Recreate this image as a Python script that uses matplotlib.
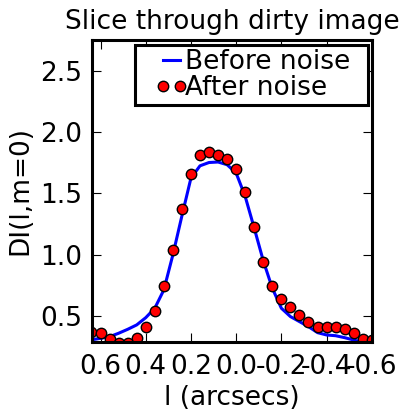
import matplotlib
matplotlib.use('Agg')
import matplotlib.pyplot as plt
from matplotlib.lines import Line2D
from matplotlib.legend_handler import HandlerLine2D

plt.rcParams['axes.unicode_minus'] = False

# slice positions (arcsec), axis runs from +0.64 down to -0.6
l_arcsec = [0.64, 0.60, 0.56, 0.52, 0.48, 0.44, 0.40, 0.36, 0.32, 0.28,
            0.24, 0.20, 0.16, 0.12, 0.08, 0.04, 0.00, -0.04, -0.08, -0.12,
            -0.16, -0.20, -0.24, -0.28, -0.32, -0.36, -0.40, -0.44, -0.48,
            -0.52, -0.56, -0.60]

before_noise = [0.305, 0.318, 0.331, 0.359, 0.391, 0.427, 0.486, 0.563, 0.712, 0.998,
                1.316, 1.624, 1.724, 1.751, 1.755, 1.733, 1.665, 1.474, 1.216, 0.950,
                0.726, 0.563, 0.495, 0.454, 0.413, 0.364, 0.345, 0.339, 0.323,
                0.304, 0.285, 0.280]

after_noise = [0.372, 0.359, 0.315, 0.277, 0.277, 0.318, 0.413, 0.543, 0.742, 1.036,
               1.376, 1.659, 1.809, 1.833, 1.809, 1.776, 1.694, 1.507, 1.224, 0.941,
               0.742, 0.636, 0.576, 0.508, 0.449, 0.413, 0.413, 0.413, 0.391,
               0.359, 0.310, 0.300]

xticks = [0.6, 0.4, 0.2, 0.0, -0.2, -0.4, -0.6]
yticks = [0.5, 1.0, 1.5, 2.0, 2.5]

fig = plt.figure(figsize=(4.05, 4.12), dpi=100)
ax = fig.add_axes([0.227, 0.170, 0.691, 0.733])

ax.plot(l_arcsec, before_noise, color='blue', lw=2.2, label='Before noise')
ax.plot(l_arcsec, after_noise, 'o', color='red', mec='black', mew=1.0,
        ms=7.5, label='After noise')

ax.set_xlim(0.638, -0.6)
ax.set_ylim(0.288, 2.75)
ax.set_xticks(xticks)
ax.set_yticks(yticks)
ax.set_xticklabels(['%.1f' % t for t in xticks])

for s in ax.spines.values():
    s.set_linewidth(2.2)
ax.tick_params(direction='in', top=True, right=True, length=6.5, width=0.8,
               labelsize=19, pad=7)
ax.tick_params(axis='x', pad=9)

ax.set_title('Slice through dirty image', fontsize=19, pad=8)
ax.set_xlabel('l (arcsecs)', fontsize=19, labelpad=3)
ax.set_ylabel('DI(l,m=0)', fontsize=19, labelpad=5)

# short handles sitting just left of the labels, inside a wide legend box
hmap = {Line2D: HandlerLine2D(marker_pad=0.34, xpad=0.57)}
leg = ax.legend(loc='upper left', bbox_to_anchor=(0.154, 0.0, 0.832, 0.983),
                mode='expand', borderaxespad=0.0, handler_map=hmap,
                numpoints=2, fontsize=19, fancybox=False,
                borderpad=0.15, labelspacing=0.0, handlelength=1.9,
                handletextpad=-0.15, framealpha=1)
leg.get_frame().set_edgecolor('black')
leg.get_frame().set_linewidth(2.2)

fig.savefig('out.png', dpi=100)
